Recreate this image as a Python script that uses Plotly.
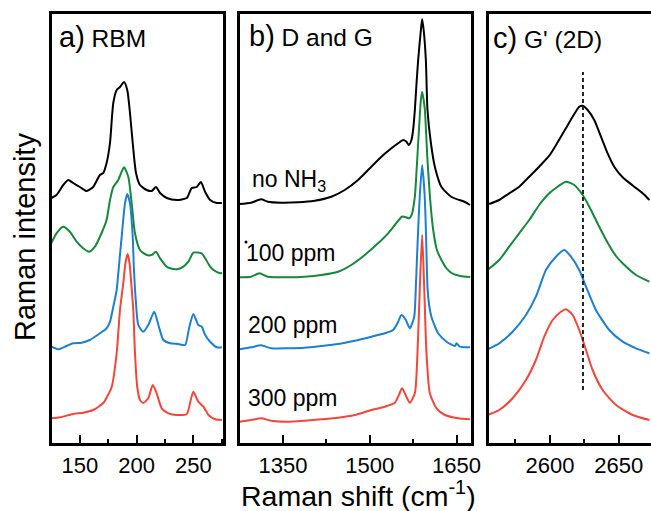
import plotly.graph_objects as go

W, H = 651, 511

# ---------------- data (Raman shift in cm-1, offset intensity in a.u.) -------------
# panel a: RBM
a_black_x = [125.0, 129.4, 135.3, 139.7, 144.1, 150.0, 155.9, 161.7, 167.6, 170.6, 173.5, 176.5, 179.4, 182.4,
             185.3, 188.8, 191.7, 194.1, 196.5, 199.4, 202.9, 208.8, 213.2, 217.0, 220.6, 226.5, 235.3, 244.1,
             248.5, 252.9, 256.5, 260.3, 264.7, 270.6, 275.0]
a_black_y = [245, 248, 258, 263, 260, 256, 252, 256, 268, 270, 280, 300, 340, 353, 356, 361, 353, 330, 300, 270,
             258, 253, 252, 256, 250, 245, 243, 245, 255, 256, 261, 251, 243, 240, 240]
a_green_x = [125.0, 129.4, 135.3, 141.2, 147.1, 152.9, 158.2, 163.2, 169.1, 173.5, 176.5, 179.4, 183.8, 188.8,
             192.6, 195.6, 198.5, 202.9, 208.8, 213.2, 217.0, 220.6, 226.5, 229.4, 235.3, 241.1, 245.5, 249.9,
             257.3, 260.3, 264.7, 267.6, 273.5, 275.2]
a_green_y = [200.3, 209.7, 216.3, 211.3, 201.3, 194.7, 191.3, 196.3, 210, 223, 243, 256, 263, 275.7, 266.3,
             239.7, 209.7, 193, 188, 188, 191.3, 184.7, 176.3, 174.7, 173.7, 176.3, 181.3, 190.3, 189.7, 184.7,
             176.3, 173, 169.7, 170]
a_blue_x = [125.0, 130.9, 138.3, 144.1, 151.5, 158.8, 167.6, 173.5, 176.5, 179.4, 182.4, 183.8, 186.8, 189.7,
            191.7, 194.1, 196.5, 197.6, 199.4, 201.4, 205.8, 210.2, 215.5, 219.1, 223.5, 229.4, 236.7, 242.6,
            246.4, 249.9, 254.3, 257.3, 260.3, 264.7, 270.6, 275.0]
a_blue_y = [96.3, 93.7, 97, 99.7, 100.3, 103, 109.7, 114.7, 121.3, 136.3, 153, 169.7, 206.3, 239.7, 249, 239.7,
            206.3, 173, 139.7, 118, 111.3, 118, 131.3, 118, 103, 99.7, 99, 98, 116.3, 129, 118, 116.3, 108,
            101.3, 95.7, 95.7]
a_red_x = [125.0, 132.4, 144.1, 152.9, 161.7, 170.6, 173.8, 178.0, 182.4, 185.3, 188.2, 190.1, 192.0, 193.7,
           195.2, 197.0, 198.5, 200.5, 202.9, 205.8, 210.2, 214.1, 217.6, 222.1, 227.9, 235.3, 244.1, 247.6,
           249.9, 254.3, 258.8, 263.2, 269.1, 275.0]
a_red_y = [24.7, 25.7, 29, 30.3, 33, 40, 46, 56, 90, 133, 160, 180, 189, 180, 160, 133, 90, 56, 43, 40, 44.7,
           58, 49.7, 34.7, 29.7, 28, 29, 43, 51.3, 41.3, 36.3, 28, 23.7, 23]

# panel b: D and G
b_black_x = [1275.0, 1295.1, 1312.4, 1324.0, 1347.1, 1376.0, 1404.9, 1433.6, 1456.8, 1479.8, 1502.8, 1520.2,
             1537.5, 1549.1, 1557.7, 1563.4, 1567.6, 1572.1, 1575.0, 1578.0, 1580.7, 1583.7, 1588.4, 1590.6,
             1593.2, 1597.0, 1599.8, 1605.7, 1612.6, 1624.0, 1641.3, 1664.5, 1673.2]
b_black_y = [239, 240.3, 243.7, 241.3, 240.3, 240.7, 242.3, 246.3, 253, 263, 276.3, 286.3, 294.7, 299.7, 303,
             301.3, 298, 303, 313, 333, 358, 383, 413, 423.7, 413, 383, 333, 300, 276, 256, 246, 241, 238]
b_green_x = [1275.0, 1295.1, 1309.7, 1324.0, 1358.7, 1387.6, 1416.3, 1445.2, 1468.2, 1491.4, 1514.4, 1531.8,
             1543.4, 1555.5, 1561.2, 1568.1, 1572.4, 1578.0, 1580.7, 1583.7, 1588.4, 1590.6, 1593.2, 1595.3,
             1599.8, 1604.5, 1609.7, 1616.1, 1624.0, 1632.2, 1641.3, 1656.4, 1673.7]
b_green_y = [165.7, 166.3, 169.7, 166.3, 165.7, 166.3, 168, 171.3, 178, 188, 199.7, 209.7, 218, 226.3, 226,
             224.7, 228, 246.3, 270, 299.7, 343, 351.3, 343, 333, 283, 243, 213, 193, 183, 175, 170, 167, 166]
b_blue_x = [1275.0, 1295.1, 1312.4, 1329.7, 1358.7, 1387.6, 1416.3, 1445.2, 1474.1, 1502.8, 1526.0, 1540.4,
            1547.9, 1554.8, 1562.4, 1569.3, 1576.8, 1579.7, 1582.0, 1584.2, 1586.6, 1590.6, 1594.9, 1596.7,
            1598.1, 1599.8, 1602.7, 1606.7, 1618.3, 1632.7, 1647.2, 1650.0, 1655.9, 1673.2]
b_blue_y = [93.7, 95.7, 97.7, 94.7, 94.7, 95.3, 97, 99, 102.3, 106.3, 109.7, 113, 119.7, 128, 123, 114.7, 126,
            156, 190, 220, 248, 278, 248, 220, 190, 156, 138, 126, 109.7, 101.3, 97, 99.7, 96.3, 95.7]
b_red_x = [1275.0, 1295.1, 1312.4, 1329.7, 1358.7, 1387.6, 1416.3, 1445.2, 1474.1, 1502.8, 1526.0, 1543.4,
           1549.1, 1556.0, 1563.4, 1569.3, 1578.0, 1582.5, 1586.6, 1590.6, 1594.1, 1598.1, 1603.9, 1615.4,
           1629.9, 1652.9, 1673.2]
b_red_y = [21.3, 23, 24.7, 22.3, 21.3, 22.3, 23.7, 25.3, 28, 33, 36.3, 40.3, 46.3, 54.7, 46.3, 40.3, 49.7,
           89.7, 156.3, 208, 156.3, 89.7, 49.7, 34.7, 28, 24.7, 23.7]

# panel c: G' (2D)
c_black_x = [2555.9, 2563.2, 2570.4, 2577.7, 2585.0, 2592.2, 2599.5, 2605.6, 2611.6, 2616.5, 2621.3, 2623.8,
             2627.4, 2632.2, 2637.1, 2641.9, 2646.7, 2652.8, 2660.1, 2667.4, 2672.2]
c_black_y = [239, 243, 249.7, 256.3, 266.3, 276.3, 287.3, 300.7, 314.7, 326.3, 336.3, 337.3, 333, 323, 306.3,
             289.7, 276.3, 265.7, 257.5, 249.7, 243]
c_green_x = [2554.7, 2563.2, 2570.4, 2577.7, 2585.0, 2592.2, 2599.5, 2605.6, 2611.6, 2617.7, 2623.8, 2628.6,
             2635.8, 2643.1, 2648.0, 2652.8, 2662.5, 2672.2]
c_green_y = [173, 183, 196.3, 209.7, 223, 238, 249.7, 256.3, 261.3, 258, 248, 236.3, 216.3, 197.5, 187,
             179.7, 168, 161.3]
c_blue_x = [2554.7, 2563.2, 2572.9, 2582.6, 2589.8, 2597.1, 2604.4, 2610.4, 2615.3, 2621.3, 2626.2, 2633.4,
            2643.1, 2652.8, 2662.5, 2672.2]
c_blue_y = [93.7, 99.7, 111.3, 128, 146.3, 173, 186.3, 193, 186.3, 173, 156.3, 133, 113, 101.3, 94.7, 89.7]
c_red_x = [2554.7, 2563.2, 2572.9, 2582.6, 2589.8, 2595.9, 2602.0, 2608.0, 2611.6, 2616.5, 2621.3, 2626.2,
           2631.0, 2638.3, 2648.0, 2660.1, 2672.2]
c_red_y = [28, 33, 44.7, 63, 83, 106.3, 123, 131.3, 133.7, 128, 113, 93, 73, 53, 38, 28, 23]

g_prime_ref = 2624          # dashed reference position
g_prime_ref_y = [53, 371]

series_names = ["no NH<sub>3</sub>", "100 ppm", "200 ppm", "300 ppm"]
colors = ["#000000", "#17873b", "#1c7fd2", "#f2463b"]

panel_titles = ["a)", "b)", "c)"]
panel_subtitles = ["RBM", "D and G", "G' (2D)"]
x_ranges = [[125, 276], [1275, 1675], [2555.4, 2673.4]]
x_tickvals = [[150, 200, 250], [1350, 1500, 1650], [2600, 2650]]
x_minor_dtick = [25, 75, 25]
y_range = [0, 429.5]

# ---------------- figure ------------------------------------------------------------
FONT = "Liberation Sans, Arial, Helvetica, sans-serif"

def px(x):
    return x / W

def py(y):
    return 1 - y / H

domains = [[px(51.5), px(223)], [px(239.5), px(471)], [px(488.5), 1.0]]
ydom = [py(443), py(13.5)]

fig = go.Figure()
panels = [
    [(a_black_x, a_black_y), (a_green_x, a_green_y), (a_blue_x, a_blue_y), (a_red_x, a_red_y)],
    [(b_black_x, b_black_y), (b_green_x, b_green_y), (b_blue_x, b_blue_y), (b_red_x, b_red_y)],
    [(c_black_x, c_black_y), (c_green_x, c_green_y), (c_blue_x, c_blue_y), (c_red_x, c_red_y)],
]
for i, pan in enumerate(panels):
    xa = "x" if i == 0 else f"x{i+1}"
    ya = "y" if i == 0 else f"y{i+1}"
    for k, (xs, ys) in enumerate(pan):
        fig.add_trace(go.Scatter(x=xs, y=ys, mode="lines", xaxis=xa, yaxis=ya,
                                 line=dict(color=colors[k], width=2, shape="spline", smoothing=0.6),
                                 showlegend=False, hoverinfo="skip"))

layout = dict(width=W, height=H, margin=dict(l=0, r=0, t=0, b=0),
              paper_bgcolor="white", plot_bgcolor="white", showlegend=False,
              font=dict(family=FONT, color="black"))
for i in range(3):
    sx = "" if i == 0 else str(i + 1)
    layout[f"xaxis{sx}"] = dict(
        domain=domains[i], range=x_ranges[i], anchor=f"y{sx}",
        tickvals=x_tickvals[i], ticks="inside", ticklen=8, tickwidth=2, tickcolor="black",
        minor=dict(ticks="inside", ticklen=4, tickwidth=2, tickcolor="black", dtick=x_minor_dtick[i],
                   tick0=x_tickvals[i][0]),
        showline=True, linewidth=3, linecolor="black", mirror=True,
        showgrid=False, zeroline=False, automargin=False,
        tickfont=dict(size=22, family=FONT, color="black"), ticklabelstandoff=1,
    )
    layout[f"yaxis{sx}"] = dict(
        domain=ydom, range=y_range, anchor=f"x{sx}",
        showticklabels=False, ticks="", showgrid=False, zeroline=False,
        showline=True, linewidth=3, linecolor="black", mirror=(i < 2), automargin=False,
    )
fig.update_layout(**layout)

anns = []
# panel titles
title_pos = [(57, 37), (247, 36), (491, 38)]
for i in range(3):
    anns.append(dict(xref="paper", yref="paper", x=px(title_pos[i][0]), y=py(title_pos[i][1]),
                     xanchor="left", yanchor="middle", showarrow=False,
                     text=f"{panel_titles[i]}<span style='font-size:24.5px'> {panel_subtitles[i]}</span>",
                     font=dict(size=29, family=FONT, color="black")))
# series labels in panel b
label_pos = [(250, 180), (244, 253), (246, 325), (246, 398)]
for name, (lx, ly) in zip(series_names, label_pos):
    anns.append(dict(xref="paper", yref="paper", x=px(lx), y=py(ly), xanchor="left", yanchor="middle",
                     showarrow=False, text=name, font=dict(size=23, family=FONT, color="black")))
# axis titles
anns.append(dict(xref="paper", yref="paper", x=px(358), y=py(494), xanchor="center", yanchor="middle",
                 showarrow=False, text="Raman shift (cm<sup>-1</sup>)",
                 font=dict(size=28.5, family=FONT, color="black")))
anns.append(dict(xref="paper", yref="paper", x=px(25), y=py(237), xanchor="center", yanchor="middle",
                 showarrow=False, text="Raman intensity", textangle=-90,
                 font=dict(size=29, family=FONT, color="black")))
fig.update_layout(annotations=anns)

fig.add_shape(type="line", xref="x3", yref="y3", x0=g_prime_ref, x1=g_prime_ref,
              y0=g_prime_ref_y[0], y1=g_prime_ref_y[1],
              line=dict(color="#222222", width=2, dash="4px,3px"))
# small stray dot near "100 ppm" label present in the original figure
fig.add_shape(type="circle", xref="paper", yref="paper", x0=px(244.5), x1=px(247.5),
              y0=py(243.5), y1=py(240.5), fillcolor="black", line=dict(width=0))

fig.write_html("out.html")
